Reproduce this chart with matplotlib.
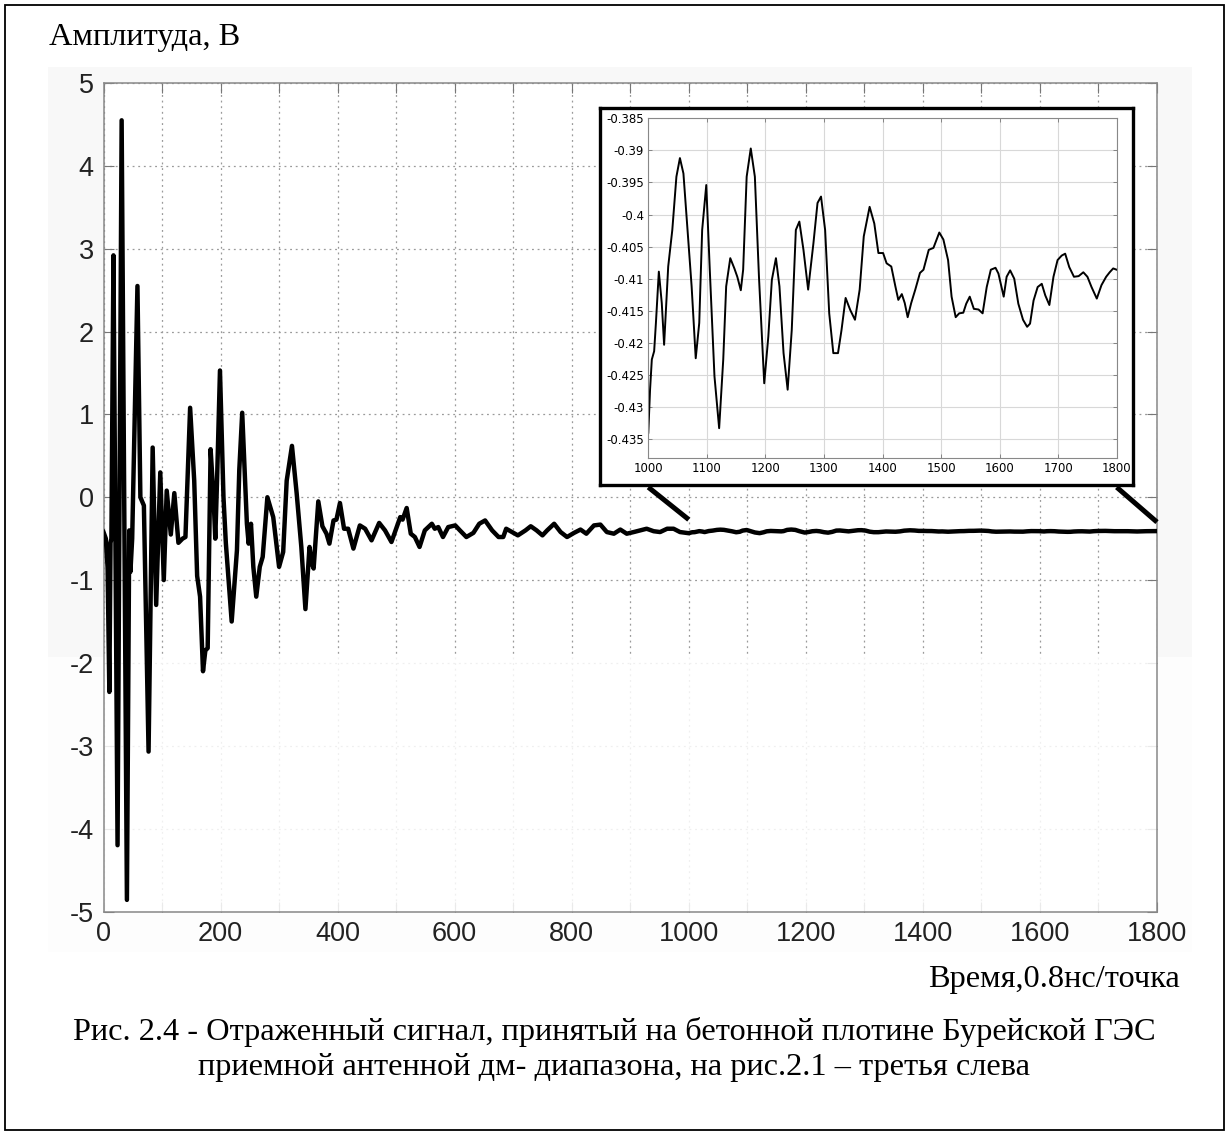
import matplotlib.pyplot as plt
from matplotlib.patches import Rectangle, ConnectionPatch

# reflected signal (0..1000 points)
t_main = [0, 4, 7, 10, 12, 13.5, 17, 24, 31, 40,
          44, 46, 49, 58, 63, 69, 77, 84, 90, 97,
          103, 108, 115, 121, 128, 135, 140, 148, 155, 160,
          165, 170, 174, 178, 183, 188, 191, 194, 199, 205,
          209, 219, 228, 232, 237, 245, 248, 252, 256, 261,
          267, 272, 280, 290, 300, 307, 313, 322, 330, 338,
          345, 352, 356, 359, 367, 374, 381, 386, 393, 398,
          404, 411, 418, 427, 438, 447, 458, 471, 481, 492,
          507, 511, 518, 525, 532, 540, 549, 561, 566, 572,
          580, 589, 601, 609, 620, 632, 642, 652, 664, 675,
          683, 688, 698, 708, 721, 730, 740, 750, 758, 770,
          781, 792, 804, 815, 825, 838, 849, 860, 872, 883,
          894, 906, 917, 928, 940, 951, 963, 974, 985]
v_main = [-0.42, -0.5, -0.85, -2.35, -0.55, -0.5, 2.92, -4.2, 4.55, -4.86,
          -0.4, -0.9, -0.5, 2.55, 0.0, -0.1, -3.07, 0.6, -1.3, 0.3,
          -1.0, 0.08, -0.45, 0.05, -0.55, -0.5, -0.48, 1.08, 0.2, -0.95,
          -1.2, -2.1, -1.85, -1.82, 0.58, 0.0, -0.5, 0.2, 1.53, 0.0,
          -0.55, -1.5, -0.64, 0.33, 1.02, -0.32, -0.56, -0.32, -0.84, -1.2,
          -0.84, -0.72, 0.0, -0.24, -0.84, -0.66, 0.2, 0.62, 0.05, -0.6,
          -1.35, -0.6, -0.8, -0.86, -0.05, -0.35, -0.44, -0.56, -0.28, -0.27,
          -0.07, -0.38, -0.38, -0.62, -0.34, -0.38, -0.52, -0.31, -0.4, -0.54,
          -0.24, -0.27, -0.13, -0.44, -0.48, -0.6, -0.4, -0.32, -0.38, -0.36,
          -0.48, -0.36, -0.34, -0.4, -0.48, -0.43, -0.32, -0.28, -0.4, -0.48,
          -0.48, -0.38, -0.42, -0.46, -0.4, -0.35, -0.4, -0.46, -0.4, -0.32,
          -0.42, -0.48, -0.43, -0.39, -0.44, -0.34, -0.33, -0.42, -0.44, -0.39,
          -0.44, -0.42, -0.4, -0.38, -0.41, -0.42, -0.38, -0.38, -0.42]

# tail 1000..1800
t_zoom = [1000, 1003, 1006, 1010, 1013, 1018, 1023, 1027, 1034, 1041,
          1048, 1054, 1060, 1067, 1074, 1081, 1087, 1092, 1099, 1105,
          1113, 1121, 1128, 1133, 1140, 1147, 1152, 1158, 1162, 1168,
          1175, 1182, 1189, 1198, 1205, 1211, 1218, 1224, 1231, 1238,
          1245, 1252, 1258, 1265, 1273, 1282, 1289, 1295, 1302, 1309,
          1316, 1324, 1330, 1337, 1345, 1353, 1361, 1368, 1378, 1386,
          1393, 1401, 1407, 1415, 1422, 1427, 1433, 1438, 1443, 1449,
          1456, 1464, 1470, 1479, 1487, 1497, 1504, 1512, 1518, 1525,
          1531, 1538, 1543, 1549, 1556, 1564, 1571, 1578, 1585, 1593,
          1598, 1607, 1612, 1618, 1625, 1632, 1640, 1647, 1652, 1658,
          1665, 1672, 1678, 1685, 1692, 1699, 1706, 1712, 1719, 1727,
          1735, 1743, 1750, 1757, 1766, 1774, 1782, 1788, 1794, 1800]
v_zoom = [-0.434, -0.4273, -0.4226, -0.4213, -0.4169, -0.4089, -0.4138, -0.4203, -0.4081, -0.4024,
          -0.3941, -0.3912, -0.3936, -0.4024, -0.4112, -0.4224, -0.4169, -0.4024, -0.3954, -0.4086,
          -0.4252, -0.4333, -0.4226, -0.4112, -0.4068, -0.4084, -0.4097, -0.4118, -0.4086, -0.3941,
          -0.3897, -0.3941, -0.4097, -0.4263, -0.419, -0.4102, -0.4068, -0.4112, -0.4216, -0.4273,
          -0.418, -0.4024, -0.4011, -0.4055, -0.4117, -0.4045, -0.3982, -0.3972, -0.4024, -0.4154,
          -0.4216, -0.4216, -0.418, -0.413, -0.4149, -0.4164, -0.4117, -0.4034, -0.3988, -0.4014,
          -0.406, -0.406, -0.4076, -0.4081, -0.4112, -0.4133, -0.4124, -0.4138, -0.416, -0.4138,
          -0.4117, -0.4091, -0.4086, -0.4055, -0.4052, -0.4028, -0.4039, -0.4071, -0.4128, -0.416,
          -0.4154, -0.4153, -0.4139, -0.4128, -0.4147, -0.4148, -0.4154, -0.4113, -0.4086, -0.4083,
          -0.4092, -0.4128, -0.4097, -0.4087, -0.41, -0.4139, -0.4164, -0.4175, -0.417, -0.4134,
          -0.4113, -0.4108, -0.4126, -0.4141, -0.4097, -0.4071, -0.4064, -0.4061, -0.4082, -0.4097,
          -0.4096, -0.409, -0.4097, -0.4113, -0.4131, -0.411, -0.4097, -0.409, -0.4084, -0.4086]

main_xticks = list(range(0, 1801, 100))
main_xlabels = [str(t) if t % 200 == 0 else '' for t in main_xticks]
main_yticks = list(range(-5, 6))
zoom_xticks = list(range(1000, 1801, 100))
zoom_yticks = [-0.435, -0.43, -0.425, -0.42, -0.415, -0.41, -0.405, -0.4, -0.395, -0.39, -0.385]

ylabel_text = 'Амплитуда, В'
xlabel_text = 'Время,0.8нс/точка'
caption1 = 'Рис. 2.4 - Отраженный сигнал, принятый на бетонной плотине Бурейской ГЭС'
caption2 = 'приемной антенной дм- диапазона, на рис.2.1 – третья слева'

plt.rcParams['axes.unicode_minus'] = False
W, H = 1228, 1135


def px_rect(l, t, r, b):
    return [l / W, 1 - b / H, (r - l) / W, (b - t) / H]


fig = plt.figure(figsize=(W / 100, H / 100), dpi=100)

# very light grey backing of the scanned plot, washed out below -2
fig.add_artist(Rectangle((48 / W, 1 - 952 / H), (1192 - 48) / W, (952 - 67) / H,
                         transform=fig.transFigure, fc='#f8f8f8', ec='none', zorder=-2))
fig.add_artist(Rectangle((48 / W, 1 - 952 / H), (1192 - 48) / W, (952 - 657) / H,
                         transform=fig.transFigure, fc='#fdfdfd', ec='none', zorder=-1))

tick_font = ['Liberation Sans Narrow', 'Liberation Sans', 'DejaVu Sans']

ax = fig.add_axes(px_rect(103.5, 83, 1157, 911.5))
ax.plot(t_main + t_zoom, v_main + v_zoom, color='black', lw=3.2, zorder=3,
        solid_joinstyle='round')
ax.set_xlim(0, 1800)
ax.set_ylim(-5, 5)
ax.set_xticks(main_xticks)
ax.set_xticklabels(main_xlabels)
ax.set_yticks(main_yticks)
ax.set_axisbelow(True)
ax.grid(True, color='#9a9a9a', lw=0.9, ls=(0, (1.5, 3)))
ax.tick_params(direction='in', top=True, right=True, length=7, width=0.8,
               color='#777777', labelsize=19.5, pad=7)
for lab in ax.get_xticklabels() + ax.get_yticklabels():
    lab.set_family(tick_font)
    lab.set_color('#222222')
for s in ax.spines.values():
    s.set_color('#888888')
    s.set_linewidth(1.1)
# the lower part of the scan is washed out
ax.add_patch(Rectangle((0, -5), 1800, 3.09, fc='white', ec='none', alpha=0.85, zorder=1))

# thick frame around the zoom
frame = fig.add_axes(px_rect(600, 108, 1133, 485))
frame.set_xticks([])
frame.set_yticks([])
frame.set_facecolor('white')
for s in frame.spines.values():
    s.set_linewidth(2.4)
    s.set_color('black')

ins = fig.add_axes(px_rect(648.3, 118.3, 1116.7, 457.7))
ins.plot(t_zoom, v_zoom, color='black', lw=1.4, solid_joinstyle='round')
ins.set_xlim(1000, 1800)
ins.set_ylim(-0.4379, -0.385)
ins.set_xticks(zoom_xticks)
ins.set_yticks(zoom_yticks)
ins.set_yticklabels(['%g' % v for v in zoom_yticks])
ins.grid(True, color='#d8d8d8', lw=0.8, ls='-')
ins.tick_params(direction='in', top=True, right=True, length=3, width=0.6,
                color='#777777', labelsize=8.5, pad=3)
for s in ins.spines.values():
    s.set_color('#888888')
    s.set_linewidth(0.8)

# connectors from the zoom frame to the trace
for xa, yb in [(1000, -0.27), (1800, -0.30)]:
    con = ConnectionPatch(xyA=(xa, -0.4425), coordsA=ins.transData,
                          xyB=(xa, yb), coordsB=ax.transData,
                          color='black', lw=3.6, capstyle='butt', zorder=10)
    fig.add_artist(con)

serif = 'Liberation Serif'
fig.text(49 / W, 1 - 45 / H, ylabel_text, family=serif, size=23.3, ha='left', va='baseline')
fig.text(1180 / W, 1 - 987 / H, xlabel_text, family=serif, size=23.3, ha='right', va='baseline')
fig.text(0.5, 1 - 1040 / H, caption1, family=serif, size=23.3, ha='center', va='baseline')
fig.text(0.5, 1 - 1075 / H, caption2, family=serif, size=23.3, ha='center', va='baseline')

# page border
fig.add_artist(Rectangle((5 / W, 1 - 1130 / H), (1224 - 5) / W, (1130 - 5) / H,
                         transform=fig.transFigure, fill=False, ec='black', lw=1.3, zorder=20))

fig.savefig('out.png', dpi=100)
